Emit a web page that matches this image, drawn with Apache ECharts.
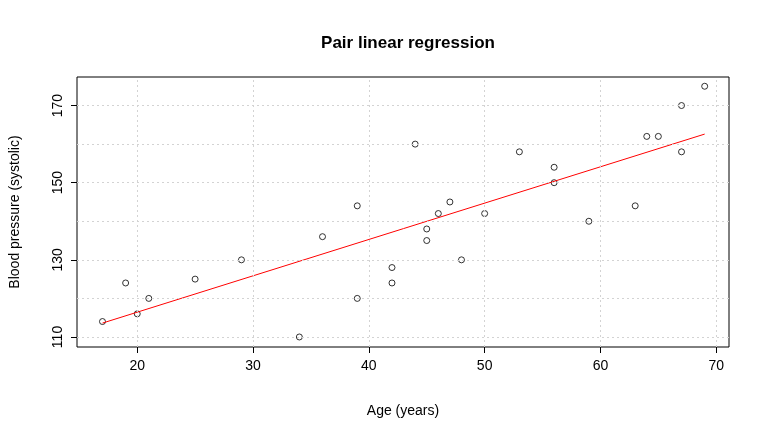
<!DOCTYPE html>
<html>
<head>
<meta charset="utf-8">
<script src="https://cdn.jsdelivr.net/npm/echarts@6/dist/echarts.min.js"></script>
<style>html,body{margin:0;padding:0;background:#fff}#c{width:770px;height:444px}</style>
</head>
<body>
<div id="c"></div>
<script>
const ages = [17, 19, 20, 21, 25, 29, 34, 36, 39, 39, 42, 42, 44, 45, 45, 46, 47, 48, 50, 53, 56, 56, 59, 63, 64, 65, 67, 67, 69]
const pressure = [114, 124, 116, 120, 125, 130, 110, 136, 144, 120, 128, 124, 160, 138, 135, 142, 145, 130, 142, 158, 154, 150, 140, 144, 162, 162, 158, 170, 175]
// regression line ends
const fitX = [17, 69]
const fitY = [113.6, 162.6]
const xTicks = [20, 30, 40, 50, 60, 70]
const yTicks = [110, 130, 150, 170]
const yGrid = [110, 120, 130, 140, 150, 160, 170]

const font = 'Liberation Sans, Arial, sans-serif'
const gridStyle = { color: '#d3d3d3', type: [2, 3], width: 1 }

const chart = echarts.init(document.getElementById('c'))
chart.setOption({
  animation: false,
  title: {
    text: 'Pair linear regression',
    left: 403, top: 30, textAlign: 'center',
    textStyle: { fontFamily: font, fontSize: 17, fontWeight: 'bold', color: '#000' }
  },
  grid: { left: 77, right: 41, top: 77, bottom: 97, show: true, borderColor: '#000', borderWidth: 1 },
  xAxis: {
    type: 'value', min: 14.8, max: 71.1,
    name: 'Age (years)', nameLocation: 'middle', nameGap: 57,
    nameTextStyle: { fontFamily: font, fontSize: 14, color: '#000' },
    axisLine: { show: false },
    splitLine: { show: false },
    axisTick: { show: true, customValues: xTicks, length: 6, lineStyle: { color: '#000' } },
    axisLabel: { customValues: xTicks, fontFamily: font, fontSize: 14, color: '#000', margin: 12 }
  },
  yAxis: {
    type: 'value', min: 107.4, max: 177.4,
    name: 'Blood pressure (systolic)', nameLocation: 'middle', nameGap: 55, nameRotate: 90,
    nameTextStyle: { fontFamily: font, fontSize: 14, color: '#000' },
    axisLine: { show: false },
    splitLine: { show: false },
    axisTick: { show: true, customValues: yTicks, length: 6, lineStyle: { color: '#000' } },
    axisLabel: { customValues: yTicks, rotate: 90, fontFamily: font, fontSize: 14, color: '#000', margin: 12 }
  },
  series: [
    {
      type: 'scatter',
      data: ages.map((a, i) => [a, pressure[i]]),
      symbol: 'circle', symbolSize: 6,
      itemStyle: { color: 'transparent', borderColor: '#000', borderWidth: 1 },
      markLine: {
        silent: true, symbol: 'none', label: { show: false },
        lineStyle: gridStyle,
        data: xTicks.map(v => ({ xAxis: v })).concat(yGrid.map(v => ({ yAxis: v })))
      },
      z: 3
    },
    {
      type: 'line',
      data: fitX.map((x, i) => [x, fitY[i]]),
      showSymbol: false,
      lineStyle: { color: '#ff0000', width: 1 },
      z: 4
    }
  ]
})
</script>
</body>
</html>
